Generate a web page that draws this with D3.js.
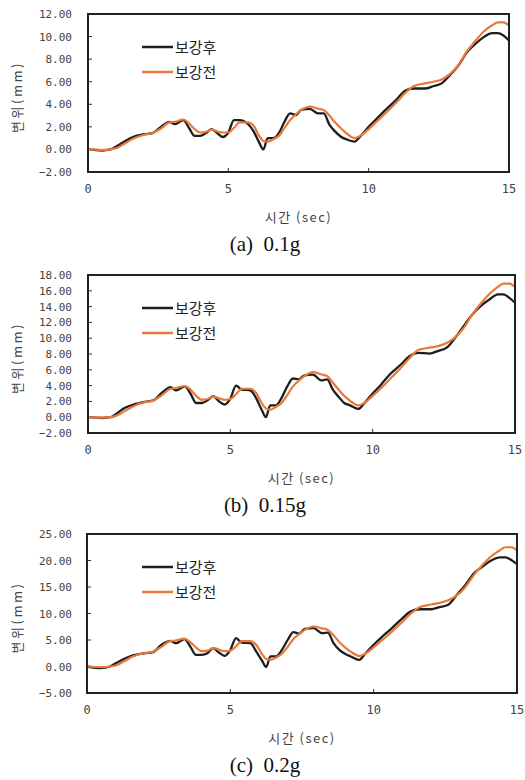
<!DOCTYPE html>
<html>
<head>
<meta charset="utf-8">
<script src="https://cdn.jsdelivr.net/npm/d3@7"></script>
<style>
  body { margin: 0; background: #fff; }
  svg { display: block; }
</style>
</head>
<body>
<script>
// time (sec)
var timeSec = [0, 0.5, 0.8, 1.0, 1.3, 1.6, 2.0, 2.3, 2.6, 2.9, 3.1, 3.4, 3.6, 3.8, 4.0, 4.2, 4.4, 4.6, 4.8, 5.0,
    5.2, 5.4, 5.7, 5.9, 6.1, 6.25, 6.4, 6.6, 6.8, 7.0, 7.2, 7.4, 7.6, 7.9, 8.2, 8.4, 8.6, 8.8, 9.0, 9.2,
    9.5, 9.7, 10.0, 10.3, 10.6, 11.0, 11.3, 11.6, 12.0, 12.3, 12.6, 12.9, 13.2, 13.5, 13.8, 14.1, 14.4, 14.6, 14.8, 15.0];

// (a) 0.1g
var after01 = [0.05, -0.1, 0, 0.25, 0.7, 1.1, 1.35, 1.45, 2.0, 2.45, 2.25, 2.6, 1.9, 1.2, 1.2, 1.45, 1.8, 1.45, 1.1, 1.5,
    2.6, 2.6, 2.25, 1.6, 0.6, 0, 1.0, 1.0, 1.45, 2.45, 3.2, 3.05, 3.5, 3.6, 3.2, 3.2, 2.2, 1.6, 1.15, 0.9,
    0.7, 1.15, 2.0, 2.75, 3.5, 4.45, 5.2, 5.4, 5.4, 5.6, 5.85, 6.6, 7.45, 8.6, 9.35, 9.95, 10.3, 10.3, 10.1, 9.65];
var before01 = [0.05, -0.05, 0, 0.1, 0.5, 0.95, 1.3, 1.45, 1.85, 2.4, 2.45, 2.65, 2.3, 1.8, 1.5, 1.55, 1.75, 1.6, 1.5, 1.5,
    1.9, 2.4, 2.4, 2.1, 1.2, 0.75, 0.7, 0.9, 1.2, 1.9, 2.6, 3.1, 3.5, 3.8, 3.6, 3.5, 3.0, 2.4, 1.9, 1.45,
    1.0, 1.2, 1.8, 2.5, 3.2, 4.2, 5.0, 5.6, 5.85, 6.0, 6.2, 6.7, 7.5, 8.7, 9.6, 10.45, 11.0, 11.25, 11.25, 11.0];

// (b) 0.15g
var after015 = [0, -0.1, 0, 0.45, 1.2, 1.6, 1.95, 2.15, 3.1, 3.8, 3.4, 3.9, 3.0, 1.8, 1.8, 2.15, 2.65, 2.0, 1.6, 2.35,
    4.0, 3.5, 3.4, 2.45, 0.95, 0, 1.5, 1.5, 2.45, 3.9, 4.9, 4.8, 5.3, 5.4, 4.65, 4.8, 3.5, 2.6, 1.8, 1.5,
    1.05, 1.75, 3.0, 4.15, 5.4, 6.7, 7.75, 8.15, 8.05, 8.4, 8.8, 10.05, 11.55, 13.0, 14.1, 14.9, 15.55, 15.55, 15.1, 14.5];
var before015 = [0, -0.05, 0, 0.2, 0.8, 1.4, 1.9, 2.1, 2.8, 3.6, 3.7, 3.95, 3.5, 2.7, 2.2, 2.3, 2.6, 2.4, 2.2, 2.3,
    2.9, 3.6, 3.6, 3.1, 1.8, 1.1, 0.95, 1.3, 1.8, 2.8, 3.9, 4.6, 5.2, 5.7, 5.4, 5.2, 4.4, 3.5, 2.7, 2.1,
    1.5, 1.8, 2.7, 3.7, 4.8, 6.3, 7.5, 8.5, 8.8, 9.0, 9.4, 10.1, 11.3, 13.0, 14.4, 15.6, 16.5, 16.9, 16.9, 16.5];

// (c) 0.2g
var after02 = [0, -0.3, 0, 0.6, 1.45, 2.1, 2.5, 2.7, 4.1, 4.85, 4.4, 5.15, 3.8, 2.2, 2.2, 2.5, 3.45, 2.65, 2.0, 3.15,
    5.35, 4.5, 4.4, 2.85, 1.15, -0.1, 1.9, 1.9, 3.15, 5.0, 6.5, 6.2, 7.1, 7.25, 6.3, 6.4, 4.4, 3.15, 2.4, 1.9,
    1.25, 2.4, 4.1, 5.65, 7.05, 9.1, 10.4, 10.8, 10.8, 11.2, 11.65, 13.5, 15.4, 17.6, 18.85, 20.0, 20.6, 20.6, 20.1, 19.3];
var before02 = [0, -0.1, 0, 0.2, 1.0, 1.9, 2.5, 2.8, 3.7, 4.8, 4.9, 5.25, 4.6, 3.6, 2.9, 3.0, 3.5, 3.2, 2.9, 3.0,
    3.8, 4.8, 4.8, 4.1, 2.4, 1.4, 1.25, 1.7, 2.4, 3.7, 5.2, 6.1, 6.9, 7.55, 7.2, 6.9, 5.9, 4.6, 3.6, 2.8,
    2.0, 2.4, 3.6, 5.0, 6.4, 8.4, 10.0, 11.2, 11.7, 12.0, 12.5, 13.4, 15.0, 17.3, 19.2, 20.8, 21.9, 22.5, 22.5, 21.9];

var xTicks = [0, 5, 10, 15];
var yTicks01 = [-2, 0, 2, 4, 6, 8, 10, 12];
var yTicks015 = [-2, 0, 2, 4, 6, 8, 10, 12, 14, 16, 18];
var yTicks02 = [-5, 0, 5, 10, 15, 20, 25];

var legendNames = ["보강후", "보강전"];
var captions = ["(a)  0.1g", "(b)  0.15g", "(c)  0.2g"];

var colorAfter = "#1e1e1e";
var colorBefore = "#e8793a";

var svg = d3.select("body").append("svg")
    .attr("width", 525)
    .attr("height", 780);

svg.append("rect").attr("width", 525).attr("height", 780).attr("fill", "#fff");

var panels = [
    {top: 14, bottom: 172, left: 88, right: 509, domain: [-2, 12], ticks: yTicks01, after: after01, before: before01, caption: captions[0]},
    {top: 275, bottom: 433, left: 88, right: 515, domain: [-2, 18], ticks: yTicks015, after: after015, before: before015, caption: captions[1]},
    {top: 534, bottom: 693, left: 87, right: 517, domain: [-5, 25], ticks: yTicks02, after: after02, before: before02, caption: captions[2]}
];

panels.forEach(function(p) {
    var x = d3.scaleLinear().domain([0, 15]).range([p.left, p.right]);
    var y = d3.scaleLinear().domain(p.domain).range([p.bottom, p.top]);
    var g = svg.append("g");

    // y tick labels
    g.selectAll(".ylab").data(p.ticks).enter().append("text")
        .attr("x", 72)
        .attr("y", function(d) { return y(d) + 4; })
        .attr("text-anchor", "end")
        .attr("font-family", "DejaVu Sans Mono")
        .attr("font-size", "11px")
        .attr("fill", "#444")
        .text(function(d) { return d3.format(".2f")(d); });

    // inner tick marks
    g.selectAll(".ytick").data(p.ticks).enter().append("line")
        .attr("x1", p.left).attr("x2", p.left + 4)
        .attr("y1", function(d) { return y(d); }).attr("y2", function(d) { return y(d); })
        .attr("stroke", "#333").attr("stroke-width", 1);
    g.selectAll(".xtick").data(xTicks).enter().append("line")
        .attr("x1", function(d) { return x(d); }).attr("x2", function(d) { return x(d); })
        .attr("y1", p.bottom).attr("y2", p.bottom - 4)
        .attr("stroke", "#333").attr("stroke-width", 1);

    // x tick labels
    g.selectAll(".xlab").data(xTicks).enter().append("text")
        .attr("x", function(d) { return x(d); })
        .attr("y", p.bottom + 21)
        .attr("text-anchor", "middle")
        .attr("font-family", "DejaVu Sans Mono")
        .attr("font-size", "12px")
        .attr("fill", "#444")
        .text(function(d) { return d; });

    // series
    var line = d3.line()
        .x(function(d, i) { return x(timeSec[i]); })
        .y(function(d) { return y(d); })
        .curve(d3.curveMonotoneX);
    g.append("path").datum(p.after)
        .attr("d", line)
        .attr("fill", "none").attr("stroke", colorAfter).attr("stroke-width", 2.3)
        .attr("stroke-linejoin", "round");
    g.append("path").datum(p.before)
        .attr("d", line)
        .attr("fill", "none").attr("stroke", colorBefore).attr("stroke-width", 2.2);

    // frame
    g.append("rect")
        .attr("x", p.left).attr("y", p.top)
        .attr("width", p.right - p.left).attr("height", p.bottom - p.top)
        .attr("fill", "none").attr("stroke", "#222").attr("stroke-width", 2);

    // legend
    var lg = [colorAfter, colorBefore];
    lg.forEach(function(c, i) {
        var ly = p.top + 33 + i * 25;
        g.append("line").attr("x1", 142).attr("x2", 173).attr("y1", ly).attr("y2", ly)
            .attr("stroke", c).attr("stroke-width", 2.5);
        g.append("text").attr("x", 175).attr("y", ly + 6)
            .attr("font-family", "Noto Sans CJK KR")
            .attr("font-size", "15px")
            .attr("fill", "#222")
            .text(legendNames[i]);
    });

    // axis titles
    g.append("text")
        .attr("x", (p.left + p.right) / 2)
        .attr("y", p.bottom + 50)
        .attr("text-anchor", "middle")
        .attr("font-family", "Noto Sans CJK KR")
        .attr("font-size", "13px")
        .attr("letter-spacing", "1.5px")
        .attr("fill", "#444")
        .text("시간 (sec)");
    g.append("text")
        .attr("transform", "translate(22," + ((p.top + p.bottom) / 2 + 4) + ") rotate(-90)")
        .attr("text-anchor", "middle")
        .attr("font-family", "Noto Sans CJK KR")
        .attr("font-size", "13px")
        .attr("letter-spacing", "2.5px")
        .attr("fill", "#444")
        .text("변위(mm)");

    // caption
    g.append("text")
        .attr("x", 265)
        .attr("y", p.bottom + 79)
        .attr("text-anchor", "middle")
        .attr("font-family", "Liberation Serif")
        .attr("font-size", "21px")
        .attr("fill", "#111")
        .style("white-space", "pre")
        .text(p.caption);
});
</script>
</body>
</html>
